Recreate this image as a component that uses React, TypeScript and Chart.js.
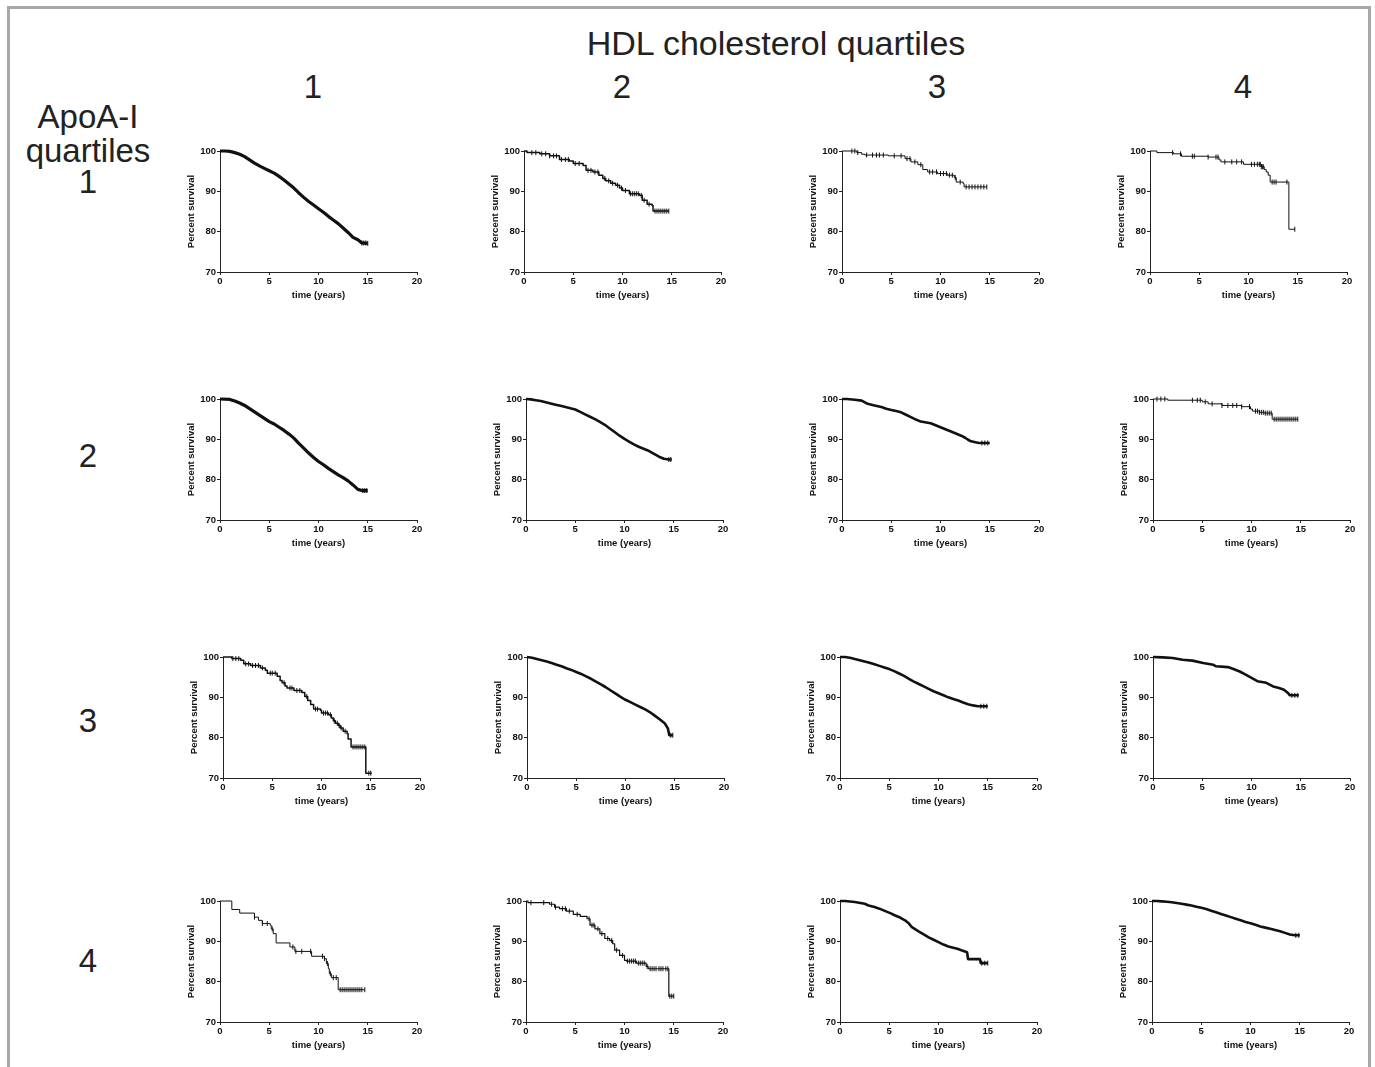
import React, { useEffect, useRef } from 'react';
import { Chart, registerables } from 'chart.js';

Chart.register(...registerables);

type Pt = [number, number];

// ---- axis definitions ----
const xMin = 0;
const xMax = 20;
const xStep = 5;
const yMin = 70;
const yMax = 100;
const yStep = 10;
const xTitle = 'time (years)';
const yTitle = 'Percent survival';

// ---- labels ----
const mainTitle = 'HDL cholesterol quartiles';
const hdlQuartiles = ['1', '2', '3', '4'];
const apoTitle = ['ApoA-I', 'quartiles'];
const apoQuartiles = ['1', '2', '3', '4'];

// ---- Kaplan-Meier curves: [time (years), percent survival] ; row = ApoA-I quartile, col = HDL quartile ----
const curve11: Pt[] = [[0,100],[0.5,100],[1,99.9],[1.5,99.6],[2,99.2],[2.5,98.6],[3,97.8],[3.5,97.0],[4,96.3],[4.5,95.7],[5,95.1],[5.5,94.5],[6,93.7],[6.5,92.8],[7,91.8],[7.5,90.8],[8,89.6],[8.5,88.5],[9,87.5],[9.5,86.6],[10,85.7],[10.5,84.8],[11,83.8],[11.5,82.9],[12,82.0],[12.5,80.9],[13,79.8],[13.5,78.6],[14,78.0],[14.4,77.2],[15,77.1]];
const curve12: Pt[] = [[0,100],[0.3,99.6],[1.6,99.3],[2.6,98.8],[3.6,97.9],[4.6,97.5],[5.0,96.9],[6.0,96.4],[6.3,95.2],[7.0,94.8],[7.6,94.0],[8.0,93.2],[8.3,92.6],[8.8,92.0],[9.3,91.5],[9.7,90.8],[10,90.2],[10.7,89.4],[11.7,89.0],[12.0,87.8],[12.5,86.8],[13.0,86.5],[13.1,85.1],[14.7,85.1]];
const curve13: Pt[] = [[0,100],[1.5,99.6],[2.0,99.2],[2.3,99.0],[4.7,98.8],[6.4,98.1],[7.0,97.3],[7.7,96.6],[8.2,95.4],[8.7,94.8],[9.7,94.4],[10.7,94.0],[11.4,93.4],[11.6,92.3],[12.3,91.9],[12.4,91.1],[14.7,91.1]];
const curve14: Pt[] = [[0,100],[0.7,99.6],[2.4,99.3],[3.2,98.7],[5.9,98.5],[7.0,97.8],[7.2,97.3],[9.5,96.7],[11.3,96.1],[11.6,95.4],[11.8,94.8],[12.0,94.0],[12.2,92.3],[14.1,80.6],[14.7,80.6]];

const curve21: Pt[] = [[0,100],[1,99.9],[1.5,99.5],[2,99.0],[2.5,98.4],[3,97.6],[3.5,96.8],[4,96.0],[4.5,95.2],[5,94.4],[5.5,93.8],[6,93.0],[6.5,92.2],[7,91.3],[7.5,90.3],[8,89.0],[8.5,87.8],[9,86.6],[9.5,85.5],[10,84.5],[10.5,83.7],[11,82.8],[11.5,82.0],[12,81.2],[12.5,80.5],[13,79.7],[13.5,78.7],[14,77.6],[14.4,77.3],[15,77.3]];
const curve22: Pt[] = [[0,100],[0.5,99.9],[1,99.7],[1.5,99.5],[2,99.2],[2.5,98.9],[3,98.6],[3.5,98.3],[4,98.0],[4.5,97.7],[5,97.4],[5.5,96.8],[6,96.2],[6.5,95.6],[7,95.0],[7.5,94.3],[8,93.6],[8.5,92.7],[9,91.8],[9.5,90.9],[10,90.1],[10.5,89.4],[11,88.7],[11.5,88.1],[12,87.6],[12.5,87.1],[13,86.4],[13.5,85.7],[14,85.2],[14.5,85.0],[14.8,85.0]];
const curve23: Pt[] = [[0,100],[0.5,100],[1.3,99.8],[2.0,99.6],[2.6,98.8],[3.3,98.4],[4.0,98.0],[4.5,97.6],[5.0,97.3],[5.5,97.0],[6.0,96.7],[6.5,96.1],[7.0,95.5],[7.5,94.9],[8.0,94.4],[9.0,94.0],[9.5,93.5],[10.0,93.0],[10.5,92.5],[11.0,92.0],[11.5,91.5],[12.1,90.9],[12.5,90.4],[12.8,89.9],[13.1,89.5],[13.9,89.1],[15.0,89.1]];
const curve24: Pt[] = [[0,100],[1.5,99.7],[5.0,99.3],[5.6,98.8],[7.0,98.4],[9.0,98.1],[9.9,97.5],[10.1,97.0],[10.8,96.7],[11.3,96.5],[12.1,95.0],[14.7,95.0]];

const curve31: Pt[] = [[0,100],[0.9,99.6],[1.8,99.2],[2.1,98.3],[2.8,97.9],[3.8,97.3],[4.3,96.7],[4.5,96.0],[5.5,95.2],[5.8,94.2],[6.0,93.6],[6.3,92.8],[6.5,92.3],[7.2,91.7],[8.0,91.2],[8.3,90.2],[8.6,89.2],[8.9,88.2],[9.2,87.1],[9.9,86.8],[10.0,86.1],[10.7,85.7],[11.0,84.9],[11.2,84.2],[11.4,83.6],[11.7,83.0],[11.9,82.4],[12.2,81.6],[12.6,81.0],[12.7,79.7],[13.0,77.7],[14.5,71.2],[15.1,71.2]];
const curve32: Pt[] = [[0,100],[0.5,99.8],[1,99.5],[1.5,99.2],[2,98.9],[2.5,98.5],[3,98.1],[3.5,97.7],[4,97.2],[4.5,96.8],[5,96.3],[5.5,95.8],[6,95.2],[6.5,94.6],[7,93.9],[7.5,93.2],[8,92.5],[8.5,91.7],[9,90.9],[9.5,90.1],[10,89.4],[10.5,88.8],[11,88.2],[11.5,87.6],[12,87.0],[12.5,86.3],[13,85.4],[13.5,84.5],[14,83.5],[14.3,82.3],[14.45,80.6],[14.8,80.6]];
const curve33: Pt[] = [[0,100],[0.5,100],[1,99.8],[1.5,99.5],[2,99.2],[2.5,98.9],[3,98.6],[3.5,98.2],[4,97.8],[4.5,97.4],[5,97.0],[5.5,96.5],[6,95.9],[6.5,95.3],[7,94.6],[7.5,93.9],[8,93.3],[8.5,92.7],[9,92.1],[9.5,91.5],[10,91.0],[10.5,90.5],[11,90.0],[11.5,89.6],[12,89.2],[12.5,88.7],[13,88.3],[13.5,88.0],[14,87.8],[15,87.8]];
const curve34: Pt[] = [[0,100],[1.0,99.9],[2.0,99.75],[3.0,99.3],[4.0,99.1],[5.1,98.5],[6.1,98.1],[6.4,97.7],[7.6,97.5],[8.1,97.1],[8.8,96.4],[9.5,95.5],[10.0,94.8],[10.6,94.0],[11.5,93.6],[12.2,92.7],[12.8,92.3],[13.3,91.9],[13.7,91.1],[13.9,90.5],[14.8,90.5]];

const curve41: Pt[] = [[0,100],[1.2,97.9],[2.0,97.0],[3.5,96.0],[3.9,95.2],[4.3,94.4],[5.1,94.0],[5.2,93.1],[5.4,91.9],[5.7,89.6],[7.1,88.6],[7.6,87.5],[9.3,86.3],[10.6,85.7],[10.8,84.5],[11.0,83.2],[11.1,82.0],[11.3,81.0],[12.0,78.0],[14.7,78.0]];
const curve42: Pt[] = [[0,100],[0.2,99.6],[2.4,99.2],[2.9,98.5],[3.4,98.1],[4.1,97.5],[4.8,96.7],[5.5,96.2],[6.2,95.6],[6.5,94.0],[7.0,93.1],[7.5,91.9],[8.0,90.7],[8.5,90.2],[8.8,89.4],[9.0,87.8],[9.5,86.5],[10.0,85.3],[10.2,85.1],[11.2,84.6],[12.2,83.8],[12.4,83.2],[14.5,76.4],[15.0,76.4]];
const curve43: Pt[] = [[0,100],[0.5,100],[1.5,99.75],[2.5,99.3],[2.9,98.9],[3.5,98.5],[4.0,98.1],[4.6,97.5],[5.1,97.0],[5.6,96.4],[6.1,95.9],[6.6,95.2],[7.0,94.4],[7.3,93.5],[7.7,92.9],[8.1,92.3],[8.5,91.7],[9.0,91.0],[9.5,90.4],[10.0,89.8],[10.5,89.2],[11.0,88.7],[12.0,88.1],[12.4,87.7],[12.9,87.3],[13.0,85.6],[14.2,85.6],[14.3,84.6],[15.0,84.6]];
const curve44: Pt[] = [[0,100],[0.5,100],[1,99.9],[1.5,99.8],[2,99.7],[2.5,99.5],[3,99.3],[3.5,99.1],[4,98.9],[4.5,98.6],[5,98.3],[5.5,98.0],[6,97.6],[6.5,97.2],[7,96.8],[7.5,96.4],[8,96.0],[8.5,95.6],[9,95.2],[9.5,94.8],[10,94.5],[10.5,94.1],[11,93.7],[11.5,93.4],[12,93.1],[12.5,92.8],[13,92.5],[13.5,92.1],[14,91.7],[14.5,91.5],[15,91.5]];

// ---- censoring times (years) ----
const censor11: number[] = [14.4, 14.6, 14.8, 15.0];
const censor12: number[] = [0.8, 1.2, 1.8, 2.2, 2.6, 3.0, 3.3, 3.8, 4.2, 4.5, 5.2, 5.6, 6.5, 6.8, 7.2, 7.5, 8.2, 8.6, 9.0, 9.5, 9.9, 10.3, 10.8, 11.0, 11.2, 11.4, 11.6, 11.9, 12.2, 12.7, 13.3, 13.5, 13.7, 13.9, 14.1, 14.3, 14.5, 14.7];
const censor13: number[] = [1.0, 1.3, 1.6, 2.5, 3.1, 3.5, 3.8, 4.2, 5.3, 6.0, 6.6, 6.9, 7.4, 8.0, 8.9, 9.2, 9.6, 10.0, 10.3, 10.6, 10.9, 11.2, 11.5, 12.0, 12.6, 12.9, 13.2, 13.5, 13.8, 14.1, 14.4, 14.7];
const censor14: number[] = [2.3, 3.1, 4.3, 4.5, 5.9, 6.7, 6.9, 7.6, 8.3, 8.8, 9.3, 10.3, 10.6, 10.9, 11.1, 11.2, 11.3, 11.4, 11.5, 12.4, 12.6, 12.8, 13.9, 14.7];
const censor21: number[] = [14.5, 14.7, 14.9];
const censor22: number[] = [14.5, 14.7];
const censor23: number[] = [14.2, 14.5, 14.8];
const censor24: number[] = [0.4, 0.8, 1.2, 4.0, 4.5, 4.8, 5.3, 6.0, 7.0, 7.6, 8.1, 8.5, 9.0, 9.8, 10.4, 10.6, 10.8, 11.0, 11.2, 11.4, 11.6, 11.8, 12.0, 12.3, 12.5, 12.7, 12.9, 13.1, 13.3, 13.5, 13.7, 13.9, 14.1, 14.3, 14.5, 14.7];
const censor31: number[] = [1.0, 1.3, 1.6, 2.3, 2.6, 3.0, 3.3, 3.6, 4.0, 4.8, 5.0, 5.3, 6.2, 6.8, 7.0, 7.5, 7.8, 8.5, 9.4, 9.6, 10.2, 10.4, 10.6, 10.9, 11.3, 11.6, 11.8, 12.0, 12.4, 13.2, 13.4, 13.6, 13.8, 14.0, 14.2, 14.4, 14.8, 15.0];
const censor32: number[] = [14.6, 14.8];
const censor33: number[] = [14.3, 14.6, 14.9];
const censor34: number[] = [14.1, 14.4, 14.7];
const censor41: number[] = [3.5, 4.3, 4.8, 5.3, 7.4, 7.7, 8.3, 9.2, 10.4, 10.6, 10.9, 11.2, 11.5, 11.8, 12.2, 12.4, 12.6, 12.8, 13.0, 13.2, 13.4, 13.6, 13.8, 14.0, 14.2, 14.4, 14.7];
const censor42: number[] = [0.5, 1.8, 2.6, 3.0, 3.7, 4.0, 4.4, 5.2, 6.4, 6.7, 6.9, 7.3, 7.7, 8.3, 8.7, 9.2, 9.8, 10.3, 10.5, 10.7, 10.9, 11.1, 11.4, 11.6, 11.8, 12.0, 12.3, 12.6, 12.8, 13.0, 13.2, 13.5, 13.7, 13.9, 14.2, 14.4, 14.6, 14.8, 15.0];
const censor43: number[] = [14.4, 14.7, 15.0];
const censor44: number[] = [14.6, 14.9];

const curves: Pt[][][] = [
  [curve11, curve12, curve13, curve14],
  [curve21, curve22, curve23, curve24],
  [curve31, curve32, curve33, curve34],
  [curve41, curve42, curve43, curve44],
];
const censors: number[][][] = [
  [censor11, censor12, censor13, censor14],
  [censor21, censor22, censor23, censor24],
  [censor31, censor32, censor33, censor34],
  [censor41, censor42, censor43, censor44],
];

// ---- styling / layout (not data) ----
const FONT = "Arial, 'Liberation Sans', Helvetica, sans-serif";
const lineWidths = [
  [3.2, 1.5, 1, 1],
  [3.2, 2.6, 2.6, 1],
  [1.5, 2.6, 2.6, 2.6],
  [1, 1.2, 2.6, 2.6],
];
// dense curves (many events) are drawn as a continuous thick line, sparse ones as explicit steps
const steppedStyle = [
  [false, true, true, true],
  [false, false, false, true],
  [true, false, false, false],
  [true, true, false, false],
];
const panelX0 = [
  [220, 524, 842, 1150],
  [220, 526, 842, 1153],
  [223, 527, 840, 1153],
  [220, 526, 840, 1152],
];
const panelY0 = [151, 399, 657, 901];
const colCenters = [313, 622, 937, 1243];
const rowLabelTops = [165, 439, 704, 944];

const Y_AXIS_W = 34;
const X_AXIS_H = 29;
const PAD_TOP = 8;
const PAD_RIGHT = 12;
const PLOT_W = 197;
const PLOT_H = 121;
const CW = Y_AXIS_W + PLOT_W + PAD_RIGHT;
const CH = PAD_TOP + PLOT_H + X_AXIS_H;

function survivalAt(curve: Pt[], t: number): number {
  let s = curve[0][1];
  for (const [ct, cs] of curve) {
    if (ct <= t) s = cs;
  }
  return s;
}

function Panel(props: { curve: Pt[]; censor: number[]; lw: number; stepped: boolean; left: number; top: number }) {
  const ref = useRef<HTMLCanvasElement>(null);
  const { curve, censor, lw, stepped, left, top } = props;
  useEffect(() => {
    if (!ref.current) return;
    const pts = curve.map(([x, y]) => ({ x, y }));
    const cens = censor.map((t) => ({ x: t, y: survivalAt(curve, t) }));
    const tickFont = { family: FONT, size: 9.5, weight: 'bold' as const };
    const chart = new Chart(ref.current, {
      type: 'line',
      data: {
        datasets: [
          {
            data: pts,
            stepped: stepped,
            tension: 0,
            borderColor: '#111',
            borderWidth: lw,
            borderJoinStyle: 'round',
            pointRadius: 0,
            fill: false,
            clip: false,
          } as any,
          {
            type: 'scatter',
            data: cens,
            pointStyle: 'line',
            rotation: 90,
            pointRadius: 2.5,
            pointBorderWidth: 1,
            pointBorderColor: '#111',
            borderColor: '#111',
            backgroundColor: '#111',
            showLine: false,
            clip: false,
          } as any,
        ],
      },
      options: {
        animation: false,
        responsive: false,
        devicePixelRatio: 1,
        events: [],
        layout: { padding: { top: PAD_TOP, right: PAD_RIGHT, left: 0, bottom: 0 } },
        plugins: { legend: { display: false }, tooltip: { enabled: false } },
        scales: {
          x: {
            type: 'linear',
            min: xMin,
            max: xMax,
            ticks: { stepSize: xStep, font: tickFont, color: '#111', padding: 1, maxRotation: 0 },
            grid: { drawOnChartArea: false, drawTicks: true, tickLength: 3, color: '#222' },
            border: { display: true, color: '#222', width: 1 },
            title: { display: true, text: xTitle, font: tickFont, color: '#111', padding: 0 },
            afterFit: (s: any) => { s.height = X_AXIS_H; },
          },
          y: {
            type: 'linear',
            min: yMin,
            max: yMax,
            ticks: { stepSize: yStep, font: tickFont, color: '#111', padding: 1 },
            grid: { drawOnChartArea: false, drawTicks: true, tickLength: 3, color: '#222' },
            border: { display: true, color: '#222', width: 1 },
            title: { display: true, text: yTitle, font: tickFont, color: '#111', padding: 0 },
            afterFit: (s: any) => { s.width = Y_AXIS_W; },
          },
        },
      } as any,
    });
    return () => chart.destroy();
  }, [curve, censor, lw, stepped]);
  return (
    <canvas
      ref={ref}
      width={CW}
      height={CH}
      style={{ position: 'absolute', left, top, width: CW, height: CH }}
    />
  );
}

const bigText: React.CSSProperties = {
  position: 'absolute',
  fontFamily: FONT,
  fontSize: 33,
  lineHeight: '33px',
  color: '#222',
  textAlign: 'center',
  width: 200,
  whiteSpace: 'nowrap',
};

export default function App() {
  return (
    <div
      style={{
        position: 'absolute',
        left: 0,
        top: 0,
        width: 1375,
        height: 1067,
        overflow: 'hidden',
        background: '#fff',
      }}
    >
      <div
        style={{
          position: 'absolute',
          left: 7,
          top: 6,
          width: 1364,
          height: 1100,
          boxSizing: 'border-box',
          borderTop: '3px solid #a8a8a8',
          borderLeft: '3px solid #a8a8a8',
          borderRight: '3px solid #a8a8a8',
        }}
      />
      <div style={{ ...bigText, fontSize: 34, lineHeight: '34px', left: 776 - 300, width: 600, top: 26 }}>{mainTitle}</div>
      {hdlQuartiles.map((q, i) => (
        <div key={'c' + i} style={{ ...bigText, left: colCenters[i] - 100, top: 70 }}>{q}</div>
      ))}
      <div style={{ ...bigText, left: 88 - 100, top: 100 }}>{apoTitle[0]}</div>
      <div style={{ ...bigText, left: 88 - 100, top: 134 }}>{apoTitle[1]}</div>
      {apoQuartiles.map((q, i) => (
        <div key={'r' + i} style={{ ...bigText, left: 88 - 100, top: rowLabelTops[i] }}>{q}</div>
      ))}
      {curves.map((row, r) =>
        row.map((curve, c) => (
          <Panel
            key={r + '-' + c}
            curve={curve}
            censor={censors[r][c]}
            lw={lineWidths[r][c]}
            stepped={steppedStyle[r][c]}
            left={panelX0[r][c] - Y_AXIS_W}
            top={panelY0[r] - PAD_TOP}
          />
        ))
      )}
    </div>
  );
}
